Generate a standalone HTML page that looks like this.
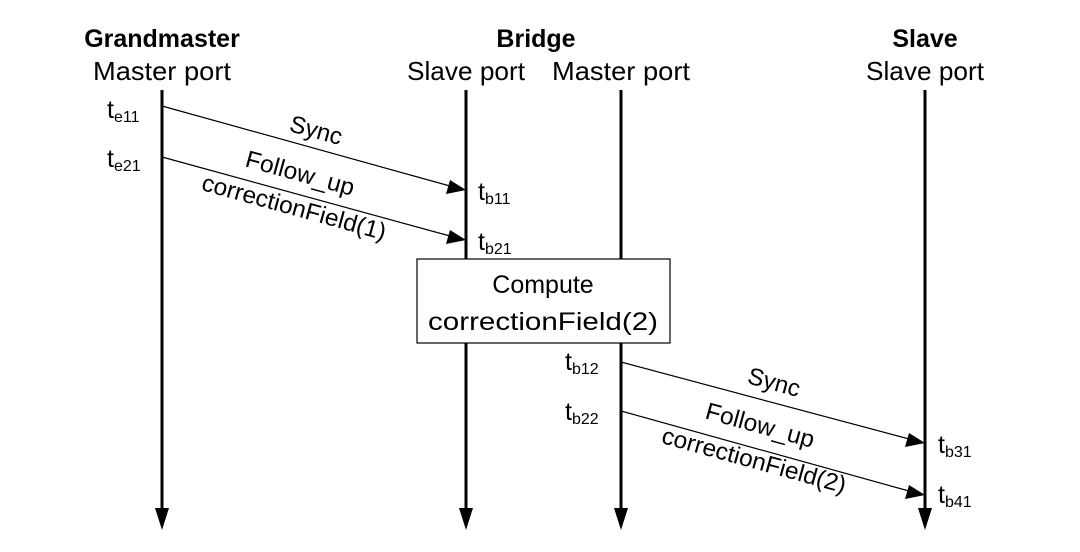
<!DOCTYPE html>
<html><head><style>
body{margin:0;background:#fff;}
svg text{font-family:"Liberation Sans",sans-serif;fill:#000;}
</style></head><body>
<svg width="1080" height="547" viewBox="0 0 1080 547" xmlns="http://www.w3.org/2000/svg">
<g text-anchor="middle">
<text x="162" y="47" font-weight="bold" font-size="25">Grandmaster</text>
<text x="162" y="80" font-size="26" textLength="138" lengthAdjust="spacingAndGlyphs">Master port</text>
<text x="536" y="47" font-weight="bold" font-size="25">Bridge</text>
<text x="466" y="80" font-size="26" textLength="118" lengthAdjust="spacingAndGlyphs">Slave port</text>
<text x="621" y="80" font-size="26" textLength="138" lengthAdjust="spacingAndGlyphs">Master port</text>
<text x="925" y="47" font-weight="bold" font-size="25">Slave</text>
<text x="925" y="80" font-size="26" textLength="118" lengthAdjust="spacingAndGlyphs">Slave port</text>
</g>
<g stroke="#000" stroke-width="3">
<line x1="162" y1="90" x2="162" y2="512"/>
<line x1="466" y1="90" x2="466" y2="512"/>
<line x1="621" y1="90" x2="621" y2="512"/>
<line x1="925" y1="90" x2="925" y2="512"/>
</g>
<g fill="#000">
<path d="M155,508 L169,508 L162,530 z"/>
<path d="M459,508 L473,508 L466,530 z"/>
<path d="M614,508 L628,508 L621,530 z"/>
<path d="M918,508 L932,508 L925,530 z"/>
</g>
<rect x="417" y="259" width="253" height="84" fill="#fff" stroke="#000" stroke-width="1.2"/>
<g font-size="25" text-anchor="middle"><text x="543" y="293">Compute</text><text x="543" y="330" textLength="230" lengthAdjust="spacingAndGlyphs">correctionField(2)</text></g>
<g stroke="#000" stroke-width="1.2">
<line x1="162" y1="106" x2="450" y2="186"/>
<line x1="162" y1="157" x2="450" y2="236"/>
<line x1="621" y1="362" x2="909" y2="439"/>
<line x1="621" y1="411" x2="909" y2="491"/>
</g>
<g fill="#000">
<path d="M466,190 L446,194 L450,180 z"/>
<path d="M466,240 L446,244 L450,230 z"/>
<path d="M925,443 L905,447 L909,433 z"/>
<path d="M925,495 L905,499 L909,485 z"/>
</g>
<g font-size="24" text-anchor="middle">
<text transform="translate(314,138) rotate(15.4)">Sync</text>
<text transform="translate(298,181) rotate(15.4)" textLength="112" lengthAdjust="spacingAndGlyphs">Follow_up</text>
<text transform="translate(292,215) rotate(15.4)" textLength="190" lengthAdjust="spacingAndGlyphs">correctionField(1)</text>
<text transform="translate(772,390) rotate(15.4)">Sync</text>
<text transform="translate(758,433) rotate(15.4)" textLength="112" lengthAdjust="spacingAndGlyphs">Follow_up</text>
<text transform="translate(752,468) rotate(15.4)" textLength="190" lengthAdjust="spacingAndGlyphs">correctionField(2)</text>
</g>
<g font-size="25">
<text x="107" y="118">t<tspan font-size="16" dy="4">e11</tspan></text>
<text x="107" y="167">t<tspan font-size="16" dy="4">e21</tspan></text>
<text x="478" y="200">t<tspan font-size="16" dy="4">b11</tspan></text>
<text x="478" y="250">t<tspan font-size="16" dy="4">b21</tspan></text>
<text x="565" y="370">t<tspan font-size="16" dy="4">b12</tspan></text>
<text x="565" y="420">t<tspan font-size="16" dy="4">b22</tspan></text>
<text x="938" y="453">t<tspan font-size="16" dy="4">b31</tspan></text>
<text x="938" y="503">t<tspan font-size="16" dy="4">b41</tspan></text>
</g>
</svg>
</body></html>
